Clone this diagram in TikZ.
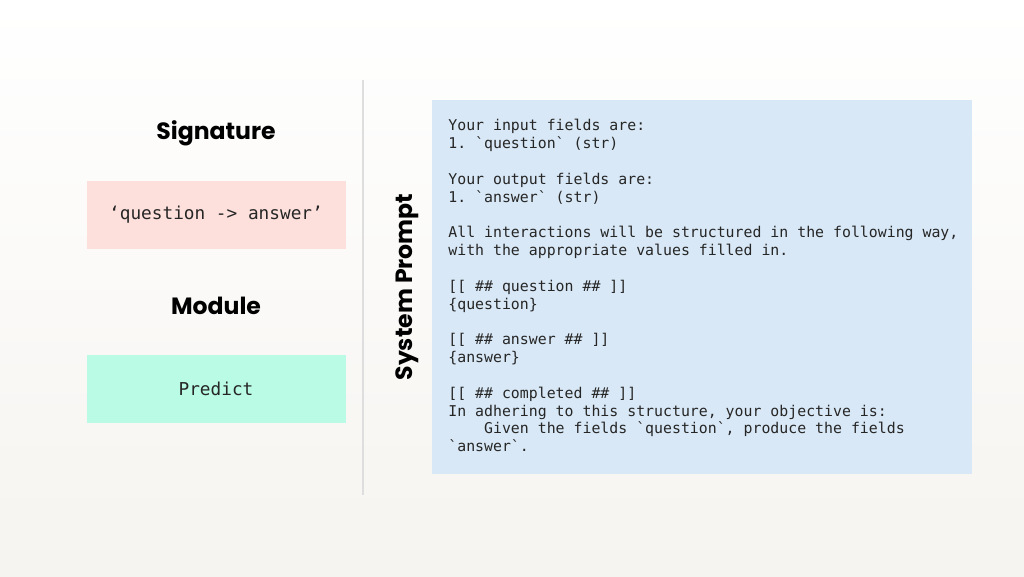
\documentclass[tikz,border=0pt]{standalone}
\usepackage{fontspec}
\setmainfont{Poppins}
\setmonofont{DejaVu Sans Mono}
\definecolor{bgtop}{HTML}{FFFFFF}
\definecolor{bgbot}{HTML}{F6F4F0}
\definecolor{pinkbox}{HTML}{FDE0DC}
\definecolor{mintbox}{HTML}{B9FBE5}
\definecolor{bluebox}{HTML}{D8E8F6}
\definecolor{divider}{HTML}{DEDEDE}
\begin{document}
\begin{tikzpicture}[x=0.02cm,y=-0.02cm,
  title/.style={font=\fontsize{13.4}{16}\selectfont\bfseries, text=black},
  boxtext/.style={font=\fontsize{10.1}{12}\selectfont\ttfamily, text=black!85},
  prompt/.style={font=\fontsize{8.46}{10.15}\selectfont\ttfamily, text=black!85, align=left, anchor=north west, inner sep=0pt}]
\shade[top color=bgtop,bottom color=bgbot] (0,0) rectangle (1024,576);
\useasboundingbox (0,0) rectangle (1024,576);
\draw[divider, line width=0.6pt] (363,80) -- (363,495);
\node[title] (sig) at (216,133) {Signature};
\fill[pinkbox] (87,181) rectangle (346,249);
\node[boxtext] (sigt) at (216,215) {‘question -> answer’};
\node[title] (mod) at (216,306) {Module};
\fill[mintbox] (87,355) rectangle (346,423);
\node[boxtext] (pred) at (216,389) {Predict};
\node[title, rotate=90] (sp) at (407,287) {System Prompt};
\fill[bluebox] (432,100) rectangle (972,474);
\node[prompt] (txt) at (448,119) {Your input fields are:\\
1. `question` (str)\\
\mbox{}\\
Your output fields are:\\
1. `answer` (str)\\
\mbox{}\\
All interactions will be structured in the following way,\\
with the appropriate values filled in.\\
\mbox{}\\
{[[} \#\# question \#\# ]]\\
\{question\}\\
\mbox{}\\
{[[} \#\# answer \#\# ]]\\
\{answer\}\\
\mbox{}\\
{[[} \#\# completed \#\# ]]\\
In adhering to this structure, your objective is:\\
\phantom{xxxx}Given the fields `question`, produce the fields\\
`answer`.};
\end{tikzpicture}
\end{document}
